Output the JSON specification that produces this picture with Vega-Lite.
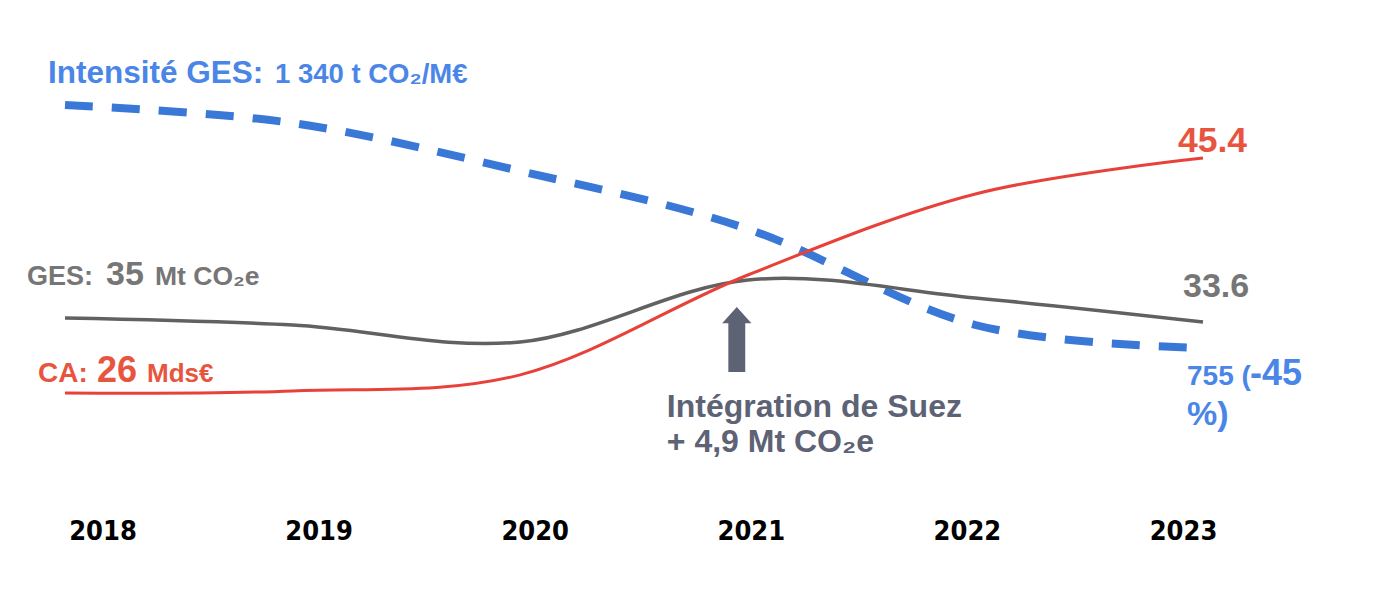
{
  "$schema": "https://vega.github.io/schema/vega-lite/v6.json",
  "width": 1138,
  "height": 515,
  "autosize": {"type": "none"},
  "padding": {"left": 65, "top": 0, "right": 180, "bottom": 86},
  "background": "#ffffff",
  "config": {"view": {"stroke": null}, "font": "Liberation Sans"},
  "datasets": {
    "ca": [
      {"year": 2018, "value": 26},
      {"year": 2019, "value": 26.17},
      {"year": 2020, "value": 27.5},
      {"year": 2021, "value": 35.74},
      {"year": 2022, "value": 42.43},
      {"year": 2023, "value": 45.4}
    ],
    "ges": [
      {"year": 2018, "value": 35},
      {"year": 2019, "value": 32.55},
      {"year": 2020, "value": 26.6},
      {"year": 2021, "value": 48.3},
      {"year": 2022, "value": 42.0},
      {"year": 2023, "value": 33.6}
    ],
    "intensite": [
      {"year": 2018, "value": 1340},
      {"year": 2019, "value": 1296.7},
      {"year": 2020, "value": 1181},
      {"year": 2021, "value": 1041.5},
      {"year": 2022, "value": 810.4},
      {"year": 2023, "value": 755}
    ],
    "years": [
      {"year": 2018}, {"year": 2019}, {"year": 2020}, {"year": 2021}, {"year": 2022}, {"year": 2023}
    ]
  },
  "resolve": {"scale": {"x": "independent", "y": "independent"}, "axis": {"x": "independent", "y": "independent"}},
  "layer": [
    {
      "data": {"name": "intensite"},
      "encoding": {
        "x": {"field": "year", "type": "quantitative", "scale": {"domain": [2018, 2023], "nice": false, "zero": false}, "axis": null},
        "y": {"field": "value", "type": "quantitative", "scale": {"domain": [352.96, 1592.8], "nice": false, "zero": false}, "axis": null}
      },
      "layer": [
        {"mark": {"type": "line", "interpolate": "cardinal", "color": "#3A78D8", "strokeWidth": 8, "strokeDash": [28, 19], "strokeCap": "butt"}},
        {"transform": [{"filter": "datum.year == 2018"}],
         "mark": {"type": "text", "text": "Intensité GES:", "align": "left", "baseline": "alphabetic", "dx": -17, "dy": -22, "fontSize": 31.5, "fontWeight": "bold", "color": "#4A86E8"}},
        {"transform": [{"filter": "datum.year == 2018"}],
         "mark": {"type": "text", "text": "1 340 t CO₂/M€", "align": "left", "baseline": "alphabetic", "dx": 210, "dy": -22, "fontSize": 27.5, "fontWeight": "bold", "color": "#4A86E8"}},
        {"transform": [{"filter": "datum.year == 2023"}],
         "mark": {"type": "text", "text": "755 (", "align": "left", "baseline": "alphabetic", "dx": -16, "dy": 37, "fontSize": 28, "fontWeight": "bold", "color": "#4A86E8"}},
        {"transform": [{"filter": "datum.year == 2023"}],
         "mark": {"type": "text", "text": "-45", "align": "left", "baseline": "alphabetic", "dx": 47, "dy": 37, "fontSize": 36, "fontWeight": "bold", "color": "#4A86E8"}},
        {"transform": [{"filter": "datum.year == 2023"}],
         "mark": {"type": "text", "text": "%)", "align": "left", "baseline": "alphabetic", "dx": -16, "dy": 77, "fontSize": 34, "fontWeight": "bold", "color": "#4A86E8"}}
      ]
    },
    {
      "data": {"name": "ges"},
      "encoding": {
        "x": {"field": "year", "type": "quantitative", "scale": {"domain": [2018, 2023], "nice": false, "zero": false}, "axis": null},
        "y": {"field": "value", "type": "quantitative", "scale": {"domain": [-33.95, 146.3], "nice": false, "zero": false}, "axis": null}
      },
      "layer": [
        {"mark": {"type": "line", "interpolate": "cardinal", "color": "#616161", "strokeWidth": 3.5}},
        {"transform": [{"filter": "datum.year == 2018"}],
         "mark": {"type": "text", "text": "GES:", "align": "left", "baseline": "alphabetic", "dx": -38, "dy": -33, "fontSize": 27, "fontWeight": "bold", "color": "#767676"}},
        {"transform": [{"filter": "datum.year == 2018"}],
         "mark": {"type": "text", "text": "35", "align": "left", "baseline": "alphabetic", "dx": 41, "dy": -33, "fontSize": 34, "fontWeight": "bold", "color": "#767676"}},
        {"transform": [{"filter": "datum.year == 2018"}],
         "mark": {"type": "text", "text": "Mt CO₂e", "align": "left", "baseline": "alphabetic", "dx": 90, "dy": -33, "fontSize": 26.5, "fontWeight": "bold", "color": "#767676"}},
        {"transform": [{"filter": "datum.year == 2023"}],
         "mark": {"type": "text", "text": "33.6", "align": "left", "baseline": "alphabetic", "dx": -20, "dy": -25, "fontSize": 34, "fontWeight": "bold", "color": "#767676"}},
        {"transform": [{"filter": "datum.year == 2021"}],
         "mark": {"type": "point", "shape": "M0,-1L0.45,-0.5L0.26,-0.5L0.26,1L-0.26,1L-0.26,-0.5L-0.45,-0.5Z", "size": 4225, "filled": true, "opacity": 1, "color": "#5D6275", "strokeWidth": 0, "xOffset": -11, "yOffset": 59.5}},
        {"transform": [{"filter": "datum.year == 2021"}],
         "mark": {"type": "text", "text": "Intégration de Suez", "align": "left", "baseline": "alphabetic", "dx": -81, "dy": 137, "fontSize": 32, "fontWeight": "bold", "color": "#5D6275"}},
        {"transform": [{"filter": "datum.year == 2021"}],
         "mark": {"type": "text", "text": "+ 4,9 Mt CO₂e", "align": "left", "baseline": "alphabetic", "dx": -81, "dy": 172, "fontSize": 32, "fontWeight": "bold", "color": "#5D6275"}}
      ]
    },
    {
      "data": {"name": "ca"},
      "encoding": {
        "x": {"field": "year", "type": "quantitative", "scale": {"domain": [2018, 2023], "nice": false, "zero": false}, "axis": null},
        "y": {"field": "value", "type": "quantitative", "scale": {"domain": [15.93, 58.44], "nice": false, "zero": false}, "axis": null}
      },
      "layer": [
        {"mark": {"type": "line", "interpolate": "cardinal", "color": "#E8413A", "strokeWidth": 3}},
        {"transform": [{"filter": "datum.year == 2018"}],
         "mark": {"type": "text", "text": "CA:", "align": "left", "baseline": "alphabetic", "dx": -27, "dy": -11, "fontSize": 28, "fontWeight": "bold", "color": "#E8553F"}},
        {"transform": [{"filter": "datum.year == 2018"}],
         "mark": {"type": "text", "text": "26", "align": "left", "baseline": "alphabetic", "dx": 32, "dy": -11, "fontSize": 36, "fontWeight": "bold", "color": "#E8553F"}},
        {"transform": [{"filter": "datum.year == 2018"}],
         "mark": {"type": "text", "text": "Mds€", "align": "left", "baseline": "alphabetic", "dx": 82, "dy": -11, "fontSize": 26, "fontWeight": "bold", "color": "#E8553F"}},
        {"transform": [{"filter": "datum.year == 2023"}],
         "mark": {"type": "text", "text": "45.4", "align": "left", "baseline": "alphabetic", "dx": -25, "dy": -6, "fontSize": 35.5, "fontWeight": "bold", "color": "#E8553F"}}
      ]
    },
    {
      "data": {"name": "years"},
      "mark": {"type": "point", "opacity": 0},
      "encoding": {
        "x": {
          "field": "year", "type": "quantitative",
          "scale": {"domain": [2017.8265, 2023.0926], "nice": false, "zero": false},
          "axis": {
            "orient": "bottom", "values": [2018, 2019, 2020, 2021, 2022, 2023], "format": "d",
            "domain": false, "ticks": false, "grid": false, "labelPadding": 3,
            "labelFont": "DejaVu Sans Condensed, Liberation Sans", "labelFontSize": 27, "labelFontWeight": "bold", "labelColor": "#000000",
            "labelBaseline": "top", "title": null
          }
        }
      }
    }
  ]
}
